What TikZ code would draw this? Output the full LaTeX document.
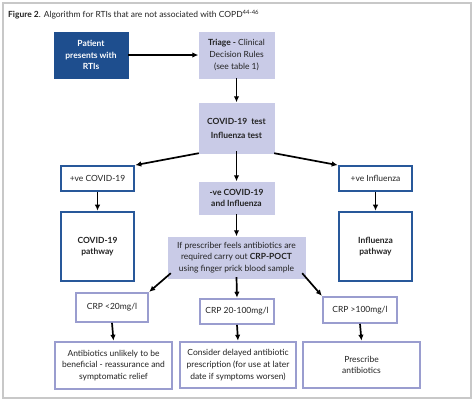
\documentclass[tikz,border=0pt]{standalone}
\usepackage{fontspec}
\setmainfont{Lato}
\usetikzlibrary{arrows.meta}
\definecolor{dkblue}{HTML}{1E4E8E}
\definecolor{lav}{HTML}{C9CBE7}
\definecolor{lavline}{HTML}{9A9DCF}
\definecolor{bluline}{HTML}{28589A}
\definecolor{frame}{HTML}{C8C8C8}
\definecolor{txt}{HTML}{222222}
\begin{document}
\begin{tikzpicture}[x=1bp,y=-1bp,
  every node/.style={font=\fontsize{8.5}{11.8}\selectfont, text=txt, align=center, inner sep=1pt},
  darkbox/.style={fill=dkblue, draw=dkblue, text=white, font=\fontsize{8.5}{11.8}\selectfont\bfseries},
  lavbox/.style={fill=lav, draw=lav},
  bluebox/.style={fill=white, draw=bluline, line width=1.6bp},
  lavframe/.style={fill=white, draw=lavline, line width=1.6bp},
  arr/.style={line width=1.7bp, -{Latex[length=6bp,width=5.5bp]}, shorten >=0.5bp}
]
\useasboundingbox (0,0) rectangle (474,403);
\draw[frame, line width=1.6bp] (3,3) rectangle (471,398);
\node[anchor=west, inner sep=0] (title) at (8,15) {\textbf{Figure 2}. Algorithm for RTIs that are not associated with COPD\textsuperscript{44-46}};

\node[darkbox, minimum width=74bp, minimum height=46bp] (pat) at (91,55) {Patient\\presents with\\RTIs};
\node[lavbox, minimum width=75bp, minimum height=46bp] (tri) at (236.5,55) {\textbf{Triage -} Clinical\\Decision Rules\\(see table 1)};
\node[lavbox, minimum width=75bp, minimum height=50bp, font=\fontsize{8.5}{14}\selectfont\bfseries] (test) at (236.5,128) {COVID-19\ \ test\\Influenza test};
\node[bluebox, minimum width=73bp, minimum height=25bp] (pcov) at (97.5,178.5) {+ve COVID-19};
\node[bluebox, minimum width=73bp, minimum height=25bp] (pflu) at (375.5,178.5) {+ve Influenza};
\node[lavbox, minimum width=75bp, minimum height=32bp, font=\fontsize{8.5}{11.8}\selectfont\bfseries] (neg) at (236.5,198) {-ve COVID-19\\and Influenza};
\node[bluebox, minimum width=73bp, minimum height=69bp, font=\fontsize{8.5}{11.8}\selectfont\bfseries] (covp) at (97.5,246.5) {COVID-19\\pathway};
\node[bluebox, minimum width=73bp, minimum height=69bp, font=\fontsize{8.5}{11.8}\selectfont\bfseries] (flup) at (375.5,246.5) {Influenza\\pathway};
\node[lavbox, minimum width=137bp, minimum height=41bp] (poct) at (236.5,257.5) {If prescriber feels antibiotics are\\required carry out \textbf{CRP-POCT}\\using finger prick blood sample};
\node[lavframe, minimum width=72bp, minimum height=29bp] (c1) at (112,307.5) {CRP <20mg/l};
\node[lavframe, minimum width=74bp, minimum height=25bp] (c2) at (237,311.5) {CRP 20-100mg/l};
\node[lavframe, minimum width=74bp, minimum height=26bp] (c3) at (360,310) {CRP >100mg/l};
\node[lavframe, minimum width=117bp, minimum height=47bp] (b1) at (113.5,365.5) {Antibiotics unlikely to be\\beneficial - reassurance and\\symptomatic relief};
\node[lavframe, minimum width=116bp, minimum height=46bp] (b2) at (238,365) {Consider delayed antibiotic\\prescription (for use at later\\date if symptoms worsen)};
\node[lavframe, minimum width=117bp, minimum height=46bp] (b3) at (361.5,365) {Prescribe\\antibiotics};

\draw[arr] (pat.east) -- (tri.west);
\draw[arr] (tri.south) -- (test.north);
\draw[arr] (test.south west) -- (pcov.north east);
\draw[arr] (test.south east) -- (pflu.north west);
\draw[arr] ([yshift=2bp]test.south) -- (neg.north);
\draw[arr] (pcov.south) -- (covp.north);
\draw[arr] (pflu.south) -- (flup.north);
\draw[arr] (neg.south) -- (poct.north);
\draw[arr] ([xshift=3bp,yshift=5bp]poct.south west) -- (c1.north east);
\draw[arr] ([yshift=1bp]poct.south) -- (c2.north);
\draw[arr] ([xshift=-3bp,yshift=5bp]poct.south east) -- (c3.north west);
\draw[arr] (c1.south) -- (b1.north);
\draw[arr] (c2.south) -- (b2.north);
\draw[arr] (c3.south) -- (b3.north);
\end{tikzpicture}
\end{document}
